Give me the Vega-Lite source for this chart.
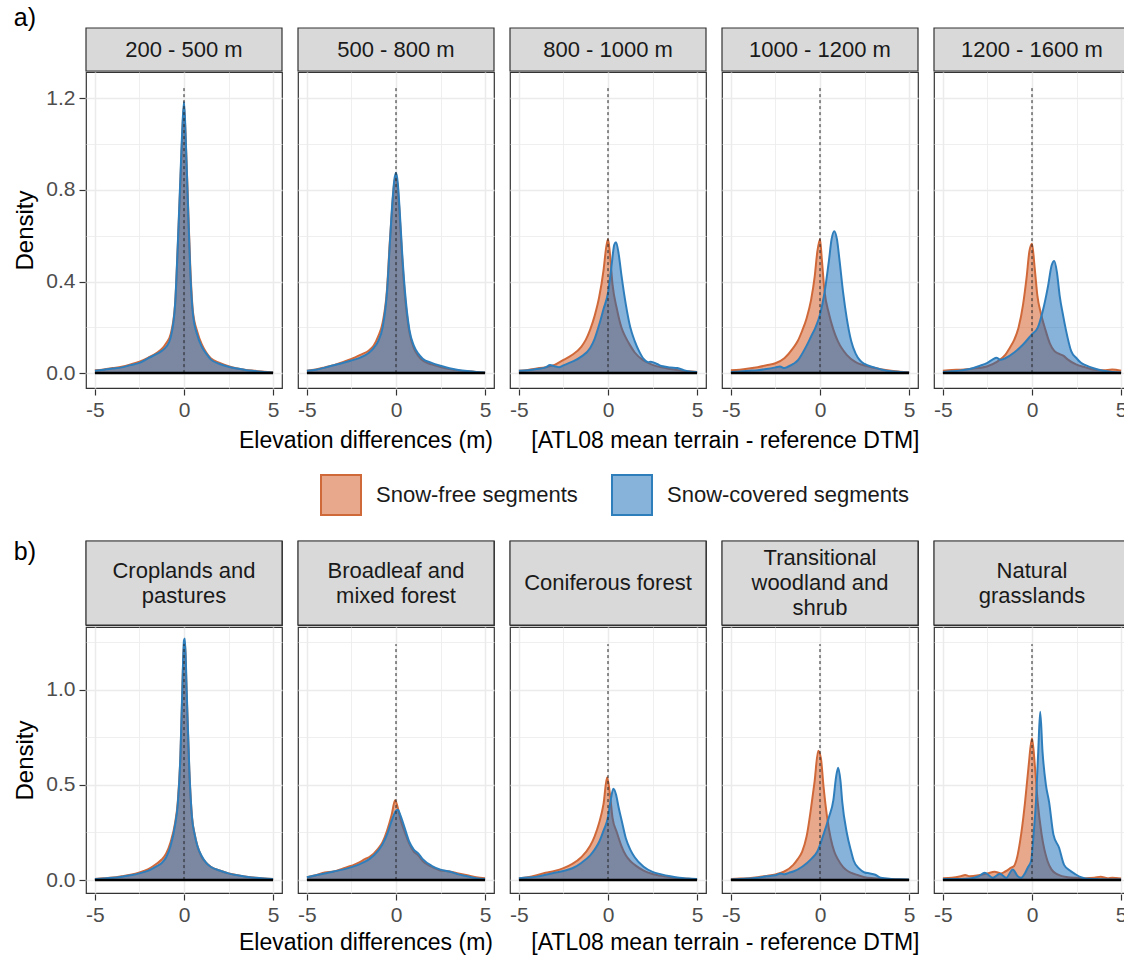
{
  "$schema": "https://vega.github.io/schema/vega-lite/v6.json",
  "background": "white",
  "padding": {"left": 13, "top": 6, "right": 0, "bottom": 0},
  "config": {
    "font": "Liberation Sans",
    "view": {"stroke": "#333333", "strokeWidth": 1.2},
    "axis": {"domain": false, "tickColor": "#333333", "tickSize": 6, "tickWidth": 1.2, "labelColor": "#4D4D4D", "labelFontSize": 21, "labelPadding": 4, "titleColor": "#000000", "titleFontSize": 24, "titleFontWeight": "normal", "titlePadding": 8},
    "title": {"fontSize": 25, "fontWeight": "normal", "color": "#000000", "anchor": "start", "frame": "bounds", "offset": -4}
  },
  "datasets": {
    "stripA": [
      {"p": "e1", "label": "200 - 500 m"},
      {"p": "e2", "label": "500 - 800 m"},
      {"p": "e3", "label": "800 - 1000 m"},
      {"p": "e4", "label": "1000 - 1200 m"},
      {"p": "e5", "label": "1200 - 1600 m"}
    ],
    "stripB": [
      {"p": "c1", "label": "Croplands and\npastures"},
      {"p": "c2", "label": "Broadleaf and\nmixed forest"},
      {"p": "c3", "label": "Coniferous forest"},
      {"p": "c4", "label": "Transitional\nwoodland and\nshrub"},
      {"p": "c5", "label": "Natural\ngrasslands"}
    ],
    "densA": [
      {"p":"e1","s":"v","x":0,"y":0},{"p":"e1","s":"v","x":0,"y":1.25},{"p":"e1","s":"b","x":-5,"y":0},{"p":"e1","s":"b","x":5,"y":0},
      {"p":"e2","s":"v","x":0,"y":0},{"p":"e2","s":"v","x":0,"y":1.25},{"p":"e2","s":"b","x":-5,"y":0},{"p":"e2","s":"b","x":5,"y":0},
      {"p":"e3","s":"v","x":0,"y":0},{"p":"e3","s":"v","x":0,"y":1.25},{"p":"e3","s":"b","x":-5,"y":0},{"p":"e3","s":"b","x":5,"y":0},
      {"p":"e4","s":"v","x":0,"y":0},{"p":"e4","s":"v","x":0,"y":1.25},{"p":"e4","s":"b","x":-5,"y":0},{"p":"e4","s":"b","x":5,"y":0},
      {"p":"e5","s":"v","x":0,"y":0},{"p":"e5","s":"v","x":0,"y":1.25},{"p":"e5","s":"b","x":-5,"y":0},{"p":"e5","s":"b","x":5,"y":0},
      {"p":"e1","s":"f","x":-5,"y":0.012},{"p":"e1","s":"f","x":-4.5,"y":0.016},{"p":"e1","s":"f","x":-4,"y":0.022},{"p":"e1","s":"f","x":-3.5,"y":0.028},{"p":"e1","s":"f","x":-3,"y":0.038},{"p":"e1","s":"f","x":-2.5,"y":0.05},{"p":"e1","s":"f","x":-2,"y":0.068},{"p":"e1","s":"f","x":-1.5,"y":0.09},{"p":"e1","s":"f","x":-1.25,"y":0.105},{"p":"e1","s":"f","x":-1,"y":0.13},{"p":"e1","s":"f","x":-0.75,"y":0.17},{"p":"e1","s":"f","x":-0.5,"y":0.3},{"p":"e1","s":"f","x":-0.35,"y":0.55},{"p":"e1","s":"f","x":-0.2,"y":0.84},{"p":"e1","s":"f","x":-0.1,"y":1.04},{"p":"e1","s":"f","x":0,"y":1.17},{"p":"e1","s":"f","x":0.1,"y":1.01},{"p":"e1","s":"f","x":0.2,"y":0.8},{"p":"e1","s":"f","x":0.35,"y":0.47},{"p":"e1","s":"f","x":0.5,"y":0.27},{"p":"e1","s":"f","x":0.75,"y":0.18},{"p":"e1","s":"f","x":1,"y":0.125},{"p":"e1","s":"f","x":1.25,"y":0.09},{"p":"e1","s":"f","x":1.5,"y":0.065},{"p":"e1","s":"f","x":2,"y":0.045},{"p":"e1","s":"f","x":2.5,"y":0.03},{"p":"e1","s":"f","x":3,"y":0.02},{"p":"e1","s":"f","x":3.5,"y":0.014},{"p":"e1","s":"f","x":4,"y":0.01},{"p":"e1","s":"f","x":4.5,"y":0.006},{"p":"e1","s":"f","x":5,"y":0.004},
      {"p":"e1","s":"c","x":-5,"y":0.01},{"p":"e1","s":"c","x":-4.5,"y":0.015},{"p":"e1","s":"c","x":-4,"y":0.02},{"p":"e1","s":"c","x":-3.5,"y":0.025},{"p":"e1","s":"c","x":-3,"y":0.035},{"p":"e1","s":"c","x":-2.5,"y":0.045},{"p":"e1","s":"c","x":-2,"y":0.065},{"p":"e1","s":"c","x":-1.5,"y":0.085},{"p":"e1","s":"c","x":-1.25,"y":0.097},{"p":"e1","s":"c","x":-1,"y":0.115},{"p":"e1","s":"c","x":-0.75,"y":0.155},{"p":"e1","s":"c","x":-0.5,"y":0.3},{"p":"e1","s":"c","x":-0.35,"y":0.56},{"p":"e1","s":"c","x":-0.2,"y":0.86},{"p":"e1","s":"c","x":-0.1,"y":1.06},{"p":"e1","s":"c","x":0,"y":1.185},{"p":"e1","s":"c","x":0.1,"y":1.02},{"p":"e1","s":"c","x":0.2,"y":0.79},{"p":"e1","s":"c","x":0.35,"y":0.45},{"p":"e1","s":"c","x":0.5,"y":0.26},{"p":"e1","s":"c","x":0.75,"y":0.165},{"p":"e1","s":"c","x":1,"y":0.115},{"p":"e1","s":"c","x":1.25,"y":0.085},{"p":"e1","s":"c","x":1.5,"y":0.06},{"p":"e1","s":"c","x":2,"y":0.04},{"p":"e1","s":"c","x":2.5,"y":0.028},{"p":"e1","s":"c","x":3,"y":0.02},{"p":"e1","s":"c","x":3.5,"y":0.013},{"p":"e1","s":"c","x":4,"y":0.009},{"p":"e1","s":"c","x":4.5,"y":0.005},{"p":"e1","s":"c","x":5,"y":0.003},
      {"p":"e2","s":"f","x":-5,"y":0.01},{"p":"e2","s":"f","x":-4.5,"y":0.016},{"p":"e2","s":"f","x":-4,"y":0.025},{"p":"e2","s":"f","x":-3.5,"y":0.035},{"p":"e2","s":"f","x":-3,"y":0.048},{"p":"e2","s":"f","x":-2.5,"y":0.062},{"p":"e2","s":"f","x":-2,"y":0.08},{"p":"e2","s":"f","x":-1.5,"y":0.1},{"p":"e2","s":"f","x":-1.25,"y":0.12},{"p":"e2","s":"f","x":-1,"y":0.16},{"p":"e2","s":"f","x":-0.75,"y":0.22},{"p":"e2","s":"f","x":-0.5,"y":0.37},{"p":"e2","s":"f","x":-0.35,"y":0.57},{"p":"e2","s":"f","x":-0.2,"y":0.74},{"p":"e2","s":"f","x":-0.1,"y":0.83},{"p":"e2","s":"f","x":0,"y":0.86},{"p":"e2","s":"f","x":0.1,"y":0.81},{"p":"e2","s":"f","x":0.2,"y":0.7},{"p":"e2","s":"f","x":0.35,"y":0.5},{"p":"e2","s":"f","x":0.5,"y":0.34},{"p":"e2","s":"f","x":0.75,"y":0.18},{"p":"e2","s":"f","x":1,"y":0.11},{"p":"e2","s":"f","x":1.25,"y":0.075},{"p":"e2","s":"f","x":1.5,"y":0.055},{"p":"e2","s":"f","x":2,"y":0.038},{"p":"e2","s":"f","x":2.5,"y":0.027},{"p":"e2","s":"f","x":3,"y":0.018},{"p":"e2","s":"f","x":3.5,"y":0.012},{"p":"e2","s":"f","x":4,"y":0.008},{"p":"e2","s":"f","x":4.5,"y":0.005},{"p":"e2","s":"f","x":5,"y":0.003},
      {"p":"e2","s":"c","x":-5,"y":0.01},{"p":"e2","s":"c","x":-4.5,"y":0.015},{"p":"e2","s":"c","x":-4,"y":0.024},{"p":"e2","s":"c","x":-3.5,"y":0.034},{"p":"e2","s":"c","x":-3,"y":0.044},{"p":"e2","s":"c","x":-2.5,"y":0.055},{"p":"e2","s":"c","x":-2,"y":0.068},{"p":"e2","s":"c","x":-1.5,"y":0.09},{"p":"e2","s":"c","x":-1.25,"y":0.11},{"p":"e2","s":"c","x":-1,"y":0.14},{"p":"e2","s":"c","x":-0.75,"y":0.2},{"p":"e2","s":"c","x":-0.5,"y":0.36},{"p":"e2","s":"c","x":-0.35,"y":0.56},{"p":"e2","s":"c","x":-0.2,"y":0.75},{"p":"e2","s":"c","x":-0.1,"y":0.84},{"p":"e2","s":"c","x":0,"y":0.875},{"p":"e2","s":"c","x":0.1,"y":0.83},{"p":"e2","s":"c","x":0.2,"y":0.72},{"p":"e2","s":"c","x":0.35,"y":0.52},{"p":"e2","s":"c","x":0.5,"y":0.36},{"p":"e2","s":"c","x":0.75,"y":0.19},{"p":"e2","s":"c","x":1,"y":0.12},{"p":"e2","s":"c","x":1.25,"y":0.085},{"p":"e2","s":"c","x":1.5,"y":0.063},{"p":"e2","s":"c","x":2,"y":0.045},{"p":"e2","s":"c","x":2.5,"y":0.032},{"p":"e2","s":"c","x":3,"y":0.021},{"p":"e2","s":"c","x":3.5,"y":0.014},{"p":"e2","s":"c","x":4,"y":0.009},{"p":"e2","s":"c","x":4.5,"y":0.005},{"p":"e2","s":"c","x":5,"y":0.003},
      {"p":"e3","s":"f","x":-5,"y":0.01},{"p":"e3","s":"f","x":-4.5,"y":0.014},{"p":"e3","s":"f","x":-4,"y":0.02},{"p":"e3","s":"f","x":-3.5,"y":0.026},{"p":"e3","s":"f","x":-3,"y":0.036},{"p":"e3","s":"f","x":-2.5,"y":0.058},{"p":"e3","s":"f","x":-2,"y":0.08},{"p":"e3","s":"f","x":-1.5,"y":0.115},{"p":"e3","s":"f","x":-1.25,"y":0.145},{"p":"e3","s":"f","x":-1,"y":0.19},{"p":"e3","s":"f","x":-0.75,"y":0.25},{"p":"e3","s":"f","x":-0.5,"y":0.33},{"p":"e3","s":"f","x":-0.25,"y":0.45},{"p":"e3","s":"f","x":-0.1,"y":0.55},{"p":"e3","s":"f","x":0,"y":0.585},{"p":"e3","s":"f","x":0.1,"y":0.53},{"p":"e3","s":"f","x":0.25,"y":0.39},{"p":"e3","s":"f","x":0.5,"y":0.28},{"p":"e3","s":"f","x":0.75,"y":0.2},{"p":"e3","s":"f","x":1,"y":0.155},{"p":"e3","s":"f","x":1.25,"y":0.12},{"p":"e3","s":"f","x":1.5,"y":0.09},{"p":"e3","s":"f","x":2,"y":0.055},{"p":"e3","s":"f","x":2.5,"y":0.036},{"p":"e3","s":"f","x":3,"y":0.025},{"p":"e3","s":"f","x":3.5,"y":0.018},{"p":"e3","s":"f","x":4,"y":0.012},{"p":"e3","s":"f","x":4.5,"y":0.008},{"p":"e3","s":"f","x":5,"y":0.005},
      {"p":"e3","s":"c","x":-5,"y":0.01},{"p":"e3","s":"c","x":-4.5,"y":0.013},{"p":"e3","s":"c","x":-4,"y":0.018},{"p":"e3","s":"c","x":-3.5,"y":0.025},{"p":"e3","s":"c","x":-3.25,"y":0.035},{"p":"e3","s":"c","x":-3,"y":0.03},{"p":"e3","s":"c","x":-2.75,"y":0.026},{"p":"e3","s":"c","x":-2.5,"y":0.034},{"p":"e3","s":"c","x":-2,"y":0.05},{"p":"e3","s":"c","x":-1.5,"y":0.072},{"p":"e3","s":"c","x":-1,"y":0.11},{"p":"e3","s":"c","x":-0.75,"y":0.15},{"p":"e3","s":"c","x":-0.5,"y":0.21},{"p":"e3","s":"c","x":-0.25,"y":0.28},{"p":"e3","s":"c","x":0,"y":0.35},{"p":"e3","s":"c","x":0.2,"y":0.47},{"p":"e3","s":"c","x":0.35,"y":0.56},{"p":"e3","s":"c","x":0.45,"y":0.572},{"p":"e3","s":"c","x":0.6,"y":0.52},{"p":"e3","s":"c","x":0.75,"y":0.43},{"p":"e3","s":"c","x":1,"y":0.3},{"p":"e3","s":"c","x":1.25,"y":0.2},{"p":"e3","s":"c","x":1.5,"y":0.14},{"p":"e3","s":"c","x":1.75,"y":0.095},{"p":"e3","s":"c","x":2,"y":0.062},{"p":"e3","s":"c","x":2.25,"y":0.048},{"p":"e3","s":"c","x":2.4,"y":0.05},{"p":"e3","s":"c","x":2.75,"y":0.04},{"p":"e3","s":"c","x":3,"y":0.031},{"p":"e3","s":"c","x":3.5,"y":0.025},{"p":"e3","s":"c","x":3.9,"y":0.022},{"p":"e3","s":"c","x":4.25,"y":0.013},{"p":"e3","s":"c","x":4.5,"y":0.008},{"p":"e3","s":"c","x":5,"y":0.005},
      {"p":"e4","s":"f","x":-5,"y":0.012},{"p":"e4","s":"f","x":-4.5,"y":0.015},{"p":"e4","s":"f","x":-4,"y":0.02},{"p":"e4","s":"f","x":-3.5,"y":0.026},{"p":"e4","s":"f","x":-3,"y":0.034},{"p":"e4","s":"f","x":-2.5,"y":0.043},{"p":"e4","s":"f","x":-2,"y":0.065},{"p":"e4","s":"f","x":-1.5,"y":0.11},{"p":"e4","s":"f","x":-1.25,"y":0.14},{"p":"e4","s":"f","x":-1,"y":0.185},{"p":"e4","s":"f","x":-0.75,"y":0.24},{"p":"e4","s":"f","x":-0.5,"y":0.32},{"p":"e4","s":"f","x":-0.3,"y":0.42},{"p":"e4","s":"f","x":-0.15,"y":0.53},{"p":"e4","s":"f","x":0,"y":0.585},{"p":"e4","s":"f","x":0.1,"y":0.5},{"p":"e4","s":"f","x":0.25,"y":0.36},{"p":"e4","s":"f","x":0.5,"y":0.26},{"p":"e4","s":"f","x":0.75,"y":0.19},{"p":"e4","s":"f","x":1,"y":0.14},{"p":"e4","s":"f","x":1.25,"y":0.105},{"p":"e4","s":"f","x":1.5,"y":0.08},{"p":"e4","s":"f","x":2,"y":0.048},{"p":"e4","s":"f","x":2.5,"y":0.033},{"p":"e4","s":"f","x":3,"y":0.023},{"p":"e4","s":"f","x":3.5,"y":0.016},{"p":"e4","s":"f","x":4,"y":0.01},{"p":"e4","s":"f","x":4.5,"y":0.006},{"p":"e4","s":"f","x":5,"y":0.004},
      {"p":"e4","s":"c","x":-5,"y":0.005},{"p":"e4","s":"c","x":-4.5,"y":0.007},{"p":"e4","s":"c","x":-4,"y":0.01},{"p":"e4","s":"c","x":-3.5,"y":0.013},{"p":"e4","s":"c","x":-3,"y":0.018},{"p":"e4","s":"c","x":-2.5,"y":0.025},{"p":"e4","s":"c","x":-2.25,"y":0.029},{"p":"e4","s":"c","x":-2,"y":0.022},{"p":"e4","s":"c","x":-1.75,"y":0.03},{"p":"e4","s":"c","x":-1.5,"y":0.04},{"p":"e4","s":"c","x":-1.25,"y":0.055},{"p":"e4","s":"c","x":-1,"y":0.085},{"p":"e4","s":"c","x":-0.75,"y":0.12},{"p":"e4","s":"c","x":-0.5,"y":0.16},{"p":"e4","s":"c","x":-0.25,"y":0.2},{"p":"e4","s":"c","x":0,"y":0.256},{"p":"e4","s":"c","x":0.25,"y":0.35},{"p":"e4","s":"c","x":0.5,"y":0.49},{"p":"e4","s":"c","x":0.65,"y":0.585},{"p":"e4","s":"c","x":0.8,"y":0.62},{"p":"e4","s":"c","x":0.95,"y":0.585},{"p":"e4","s":"c","x":1.1,"y":0.49},{"p":"e4","s":"c","x":1.3,"y":0.35},{"p":"e4","s":"c","x":1.5,"y":0.24},{"p":"e4","s":"c","x":1.75,"y":0.14},{"p":"e4","s":"c","x":2,"y":0.085},{"p":"e4","s":"c","x":2.25,"y":0.055},{"p":"e4","s":"c","x":2.5,"y":0.04},{"p":"e4","s":"c","x":3,"y":0.026},{"p":"e4","s":"c","x":3.5,"y":0.015},{"p":"e4","s":"c","x":4,"y":0.008},{"p":"e4","s":"c","x":4.5,"y":0.005},{"p":"e4","s":"c","x":5,"y":0.003},
      {"p":"e5","s":"f","x":-5,"y":0.01},{"p":"e5","s":"f","x":-4.5,"y":0.014},{"p":"e5","s":"f","x":-4,"y":0.015},{"p":"e5","s":"f","x":-3.5,"y":0.018},{"p":"e5","s":"f","x":-3,"y":0.022},{"p":"e5","s":"f","x":-2.5,"y":0.03},{"p":"e5","s":"f","x":-2,"y":0.048},{"p":"e5","s":"f","x":-1.5,"y":0.08},{"p":"e5","s":"f","x":-1.25,"y":0.11},{"p":"e5","s":"f","x":-1,"y":0.145},{"p":"e5","s":"f","x":-0.75,"y":0.2},{"p":"e5","s":"f","x":-0.5,"y":0.3},{"p":"e5","s":"f","x":-0.3,"y":0.42},{"p":"e5","s":"f","x":-0.15,"y":0.53},{"p":"e5","s":"f","x":0,"y":0.565},{"p":"e5","s":"f","x":0.15,"y":0.46},{"p":"e5","s":"f","x":0.3,"y":0.34},{"p":"e5","s":"f","x":0.5,"y":0.26},{"p":"e5","s":"f","x":0.75,"y":0.19},{"p":"e5","s":"f","x":1,"y":0.13},{"p":"e5","s":"f","x":1.25,"y":0.097},{"p":"e5","s":"f","x":1.5,"y":0.085},{"p":"e5","s":"f","x":1.8,"y":0.074},{"p":"e5","s":"f","x":2,"y":0.06},{"p":"e5","s":"f","x":2.5,"y":0.037},{"p":"e5","s":"f","x":3,"y":0.025},{"p":"e5","s":"f","x":3.5,"y":0.015},{"p":"e5","s":"f","x":4,"y":0.012},{"p":"e5","s":"f","x":4.5,"y":0.016},{"p":"e5","s":"f","x":5,"y":0.01},
      {"p":"e5","s":"c","x":-5,"y":0.005},{"p":"e5","s":"c","x":-4.5,"y":0.008},{"p":"e5","s":"c","x":-4,"y":0.012},{"p":"e5","s":"c","x":-3.5,"y":0.018},{"p":"e5","s":"c","x":-3,"y":0.03},{"p":"e5","s":"c","x":-2.5,"y":0.045},{"p":"e5","s":"c","x":-2.2,"y":0.06},{"p":"e5","s":"c","x":-2,"y":0.067},{"p":"e5","s":"c","x":-1.75,"y":0.058},{"p":"e5","s":"c","x":-1.5,"y":0.065},{"p":"e5","s":"c","x":-1,"y":0.09},{"p":"e5","s":"c","x":-0.5,"y":0.125},{"p":"e5","s":"c","x":0,"y":0.17},{"p":"e5","s":"c","x":0.33,"y":0.2},{"p":"e5","s":"c","x":0.6,"y":0.27},{"p":"e5","s":"c","x":0.9,"y":0.38},{"p":"e5","s":"c","x":1.1,"y":0.47},{"p":"e5","s":"c","x":1.25,"y":0.49},{"p":"e5","s":"c","x":1.4,"y":0.44},{"p":"e5","s":"c","x":1.55,"y":0.34},{"p":"e5","s":"c","x":1.75,"y":0.25},{"p":"e5","s":"c","x":1.9,"y":0.19},{"p":"e5","s":"c","x":2.2,"y":0.096},{"p":"e5","s":"c","x":2.5,"y":0.065},{"p":"e5","s":"c","x":2.75,"y":0.045},{"p":"e5","s":"c","x":3,"y":0.035},{"p":"e5","s":"c","x":3.5,"y":0.02},{"p":"e5","s":"c","x":4,"y":0.01},{"p":"e5","s":"c","x":4.5,"y":0.005},{"p":"e5","s":"c","x":5,"y":0.003}
    ],
    "densB": [
      {"p":"c1","s":"v","x":0,"y":0},{"p":"c1","s":"v","x":0,"y":1.24},{"p":"c1","s":"b","x":-5,"y":0},{"p":"c1","s":"b","x":5,"y":0},
      {"p":"c2","s":"v","x":0,"y":0},{"p":"c2","s":"v","x":0,"y":1.24},{"p":"c2","s":"b","x":-5,"y":0},{"p":"c2","s":"b","x":5,"y":0},
      {"p":"c3","s":"v","x":0,"y":0},{"p":"c3","s":"v","x":0,"y":1.24},{"p":"c3","s":"b","x":-5,"y":0},{"p":"c3","s":"b","x":5,"y":0},
      {"p":"c4","s":"v","x":0,"y":0},{"p":"c4","s":"v","x":0,"y":1.24},{"p":"c4","s":"b","x":-5,"y":0},{"p":"c4","s":"b","x":5,"y":0},
      {"p":"c5","s":"v","x":0,"y":0},{"p":"c5","s":"v","x":0,"y":1.24},{"p":"c5","s":"b","x":-5,"y":0},{"p":"c5","s":"b","x":5,"y":0},
      {"p":"c1","s":"f","x":-5,"y":0.006},{"p":"c1","s":"f","x":-4.5,"y":0.009},{"p":"c1","s":"f","x":-4,"y":0.013},{"p":"c1","s":"f","x":-3.5,"y":0.02},{"p":"c1","s":"f","x":-3,"y":0.028},{"p":"c1","s":"f","x":-2.5,"y":0.04},{"p":"c1","s":"f","x":-2,"y":0.058},{"p":"c1","s":"f","x":-1.5,"y":0.088},{"p":"c1","s":"f","x":-1.25,"y":0.108},{"p":"c1","s":"f","x":-1,"y":0.14},{"p":"c1","s":"f","x":-0.75,"y":0.2},{"p":"c1","s":"f","x":-0.5,"y":0.3},{"p":"c1","s":"f","x":-0.35,"y":0.41},{"p":"c1","s":"f","x":-0.2,"y":0.65},{"p":"c1","s":"f","x":-0.1,"y":0.97},{"p":"c1","s":"f","x":0,"y":1.25},{"p":"c1","s":"f","x":0.05,"y":1.24},{"p":"c1","s":"f","x":0.15,"y":0.98},{"p":"c1","s":"f","x":0.3,"y":0.57},{"p":"c1","s":"f","x":0.45,"y":0.33},{"p":"c1","s":"f","x":0.6,"y":0.24},{"p":"c1","s":"f","x":0.75,"y":0.18},{"p":"c1","s":"f","x":1,"y":0.12},{"p":"c1","s":"f","x":1.25,"y":0.09},{"p":"c1","s":"f","x":1.5,"y":0.07},{"p":"c1","s":"f","x":2,"y":0.05},{"p":"c1","s":"f","x":2.5,"y":0.035},{"p":"c1","s":"f","x":3,"y":0.026},{"p":"c1","s":"f","x":3.5,"y":0.018},{"p":"c1","s":"f","x":4,"y":0.012},{"p":"c1","s":"f","x":4.5,"y":0.008},{"p":"c1","s":"f","x":5,"y":0.005},
      {"p":"c1","s":"c","x":-5,"y":0.005},{"p":"c1","s":"c","x":-4.5,"y":0.008},{"p":"c1","s":"c","x":-4,"y":0.012},{"p":"c1","s":"c","x":-3.5,"y":0.018},{"p":"c1","s":"c","x":-3,"y":0.025},{"p":"c1","s":"c","x":-2.5,"y":0.035},{"p":"c1","s":"c","x":-2,"y":0.05},{"p":"c1","s":"c","x":-1.5,"y":0.075},{"p":"c1","s":"c","x":-1.25,"y":0.09},{"p":"c1","s":"c","x":-1,"y":0.12},{"p":"c1","s":"c","x":-0.75,"y":0.18},{"p":"c1","s":"c","x":-0.5,"y":0.29},{"p":"c1","s":"c","x":-0.35,"y":0.4},{"p":"c1","s":"c","x":-0.2,"y":0.66},{"p":"c1","s":"c","x":-0.1,"y":0.99},{"p":"c1","s":"c","x":0,"y":1.26},{"p":"c1","s":"c","x":0.05,"y":1.27},{"p":"c1","s":"c","x":0.15,"y":1.0},{"p":"c1","s":"c","x":0.3,"y":0.58},{"p":"c1","s":"c","x":0.45,"y":0.33},{"p":"c1","s":"c","x":0.6,"y":0.24},{"p":"c1","s":"c","x":0.75,"y":0.18},{"p":"c1","s":"c","x":1,"y":0.125},{"p":"c1","s":"c","x":1.25,"y":0.09},{"p":"c1","s":"c","x":1.5,"y":0.07},{"p":"c1","s":"c","x":2,"y":0.05},{"p":"c1","s":"c","x":2.5,"y":0.035},{"p":"c1","s":"c","x":3,"y":0.025},{"p":"c1","s":"c","x":3.5,"y":0.018},{"p":"c1","s":"c","x":4,"y":0.012},{"p":"c1","s":"c","x":4.5,"y":0.008},{"p":"c1","s":"c","x":5,"y":0.005},
      {"p":"c2","s":"f","x":-5,"y":0.015},{"p":"c2","s":"f","x":-4.5,"y":0.025},{"p":"c2","s":"f","x":-4,"y":0.04},{"p":"c2","s":"f","x":-3.5,"y":0.045},{"p":"c2","s":"f","x":-3,"y":0.06},{"p":"c2","s":"f","x":-2.5,"y":0.075},{"p":"c2","s":"f","x":-2,"y":0.095},{"p":"c2","s":"f","x":-1.75,"y":0.11},{"p":"c2","s":"f","x":-1.5,"y":0.12},{"p":"c2","s":"f","x":-1,"y":0.165},{"p":"c2","s":"f","x":-0.75,"y":0.2},{"p":"c2","s":"f","x":-0.5,"y":0.26},{"p":"c2","s":"f","x":-0.25,"y":0.34},{"p":"c2","s":"f","x":-0.05,"y":0.42},{"p":"c2","s":"f","x":0.1,"y":0.38},{"p":"c2","s":"f","x":0.25,"y":0.32},{"p":"c2","s":"f","x":0.5,"y":0.25},{"p":"c2","s":"f","x":0.75,"y":0.19},{"p":"c2","s":"f","x":1,"y":0.15},{"p":"c2","s":"f","x":1.25,"y":0.13},{"p":"c2","s":"f","x":1.5,"y":0.1},{"p":"c2","s":"f","x":2,"y":0.07},{"p":"c2","s":"f","x":2.5,"y":0.05},{"p":"c2","s":"f","x":3,"y":0.045},{"p":"c2","s":"f","x":3.5,"y":0.035},{"p":"c2","s":"f","x":4,"y":0.025},{"p":"c2","s":"f","x":4.5,"y":0.015},{"p":"c2","s":"f","x":5,"y":0.01},
      {"p":"c2","s":"c","x":-5,"y":0.015},{"p":"c2","s":"c","x":-4.5,"y":0.025},{"p":"c2","s":"c","x":-4,"y":0.035},{"p":"c2","s":"c","x":-3.5,"y":0.045},{"p":"c2","s":"c","x":-3,"y":0.055},{"p":"c2","s":"c","x":-2.5,"y":0.068},{"p":"c2","s":"c","x":-2,"y":0.085},{"p":"c2","s":"c","x":-1.5,"y":0.11},{"p":"c2","s":"c","x":-1,"y":0.155},{"p":"c2","s":"c","x":-0.75,"y":0.19},{"p":"c2","s":"c","x":-0.5,"y":0.24},{"p":"c2","s":"c","x":-0.25,"y":0.31},{"p":"c2","s":"c","x":0,"y":0.365},{"p":"c2","s":"c","x":0.1,"y":0.37},{"p":"c2","s":"c","x":0.25,"y":0.34},{"p":"c2","s":"c","x":0.5,"y":0.27},{"p":"c2","s":"c","x":0.75,"y":0.2},{"p":"c2","s":"c","x":1,"y":0.16},{"p":"c2","s":"c","x":1.25,"y":0.14},{"p":"c2","s":"c","x":1.5,"y":0.11},{"p":"c2","s":"c","x":2,"y":0.075},{"p":"c2","s":"c","x":2.5,"y":0.055},{"p":"c2","s":"c","x":3,"y":0.045},{"p":"c2","s":"c","x":3.5,"y":0.03},{"p":"c2","s":"c","x":4,"y":0.02},{"p":"c2","s":"c","x":4.5,"y":0.01},{"p":"c2","s":"c","x":5,"y":0.005},
      {"p":"c3","s":"f","x":-5,"y":0.01},{"p":"c3","s":"f","x":-4.5,"y":0.015},{"p":"c3","s":"f","x":-4,"y":0.025},{"p":"c3","s":"f","x":-3.5,"y":0.038},{"p":"c3","s":"f","x":-3,"y":0.048},{"p":"c3","s":"f","x":-2.5,"y":0.063},{"p":"c3","s":"f","x":-2,"y":0.085},{"p":"c3","s":"f","x":-1.5,"y":0.12},{"p":"c3","s":"f","x":-1,"y":0.18},{"p":"c3","s":"f","x":-0.75,"y":0.23},{"p":"c3","s":"f","x":-0.5,"y":0.3},{"p":"c3","s":"f","x":-0.25,"y":0.4},{"p":"c3","s":"f","x":-0.05,"y":0.54},{"p":"c3","s":"f","x":0.1,"y":0.46},{"p":"c3","s":"f","x":0.25,"y":0.33},{"p":"c3","s":"f","x":0.5,"y":0.25},{"p":"c3","s":"f","x":0.75,"y":0.18},{"p":"c3","s":"f","x":1,"y":0.13},{"p":"c3","s":"f","x":1.25,"y":0.1},{"p":"c3","s":"f","x":1.5,"y":0.08},{"p":"c3","s":"f","x":2,"y":0.05},{"p":"c3","s":"f","x":2.5,"y":0.032},{"p":"c3","s":"f","x":3,"y":0.022},{"p":"c3","s":"f","x":3.5,"y":0.015},{"p":"c3","s":"f","x":4,"y":0.01},{"p":"c3","s":"f","x":4.5,"y":0.007},{"p":"c3","s":"f","x":5,"y":0.005},
      {"p":"c3","s":"c","x":-5,"y":0.01},{"p":"c3","s":"c","x":-4.5,"y":0.013},{"p":"c3","s":"c","x":-4,"y":0.018},{"p":"c3","s":"c","x":-3.5,"y":0.028},{"p":"c3","s":"c","x":-3,"y":0.038},{"p":"c3","s":"c","x":-2.5,"y":0.048},{"p":"c3","s":"c","x":-2,"y":0.062},{"p":"c3","s":"c","x":-1.5,"y":0.09},{"p":"c3","s":"c","x":-1,"y":0.13},{"p":"c3","s":"c","x":-0.75,"y":0.16},{"p":"c3","s":"c","x":-0.5,"y":0.2},{"p":"c3","s":"c","x":-0.25,"y":0.26},{"p":"c3","s":"c","x":0,"y":0.33},{"p":"c3","s":"c","x":0.15,"y":0.42},{"p":"c3","s":"c","x":0.3,"y":0.48},{"p":"c3","s":"c","x":0.45,"y":0.45},{"p":"c3","s":"c","x":0.6,"y":0.38},{"p":"c3","s":"c","x":0.75,"y":0.32},{"p":"c3","s":"c","x":1,"y":0.22},{"p":"c3","s":"c","x":1.25,"y":0.16},{"p":"c3","s":"c","x":1.5,"y":0.12},{"p":"c3","s":"c","x":2,"y":0.07},{"p":"c3","s":"c","x":2.5,"y":0.043},{"p":"c3","s":"c","x":3,"y":0.03},{"p":"c3","s":"c","x":3.5,"y":0.02},{"p":"c3","s":"c","x":4,"y":0.012},{"p":"c3","s":"c","x":4.5,"y":0.008},{"p":"c3","s":"c","x":5,"y":0.005},
      {"p":"c4","s":"f","x":-5,"y":0.005},{"p":"c4","s":"f","x":-4.5,"y":0.008},{"p":"c4","s":"f","x":-4,"y":0.01},{"p":"c4","s":"f","x":-3.5,"y":0.015},{"p":"c4","s":"f","x":-3,"y":0.022},{"p":"c4","s":"f","x":-2.5,"y":0.03},{"p":"c4","s":"f","x":-2,"y":0.045},{"p":"c4","s":"f","x":-1.5,"y":0.08},{"p":"c4","s":"f","x":-1.25,"y":0.11},{"p":"c4","s":"f","x":-1,"y":0.15},{"p":"c4","s":"f","x":-0.75,"y":0.23},{"p":"c4","s":"f","x":-0.5,"y":0.38},{"p":"c4","s":"f","x":-0.3,"y":0.52},{"p":"c4","s":"f","x":-0.1,"y":0.68},{"p":"c4","s":"f","x":0.05,"y":0.64},{"p":"c4","s":"f","x":0.2,"y":0.49},{"p":"c4","s":"f","x":0.4,"y":0.33},{"p":"c4","s":"f","x":0.6,"y":0.22},{"p":"c4","s":"f","x":0.8,"y":0.15},{"p":"c4","s":"f","x":1,"y":0.11},{"p":"c4","s":"f","x":1.3,"y":0.068},{"p":"c4","s":"f","x":1.6,"y":0.045},{"p":"c4","s":"f","x":2,"y":0.03},{"p":"c4","s":"f","x":2.5,"y":0.015},{"p":"c4","s":"f","x":3,"y":0.01},{"p":"c4","s":"f","x":3.5,"y":0.007},{"p":"c4","s":"f","x":4,"y":0.005},{"p":"c4","s":"f","x":4.5,"y":0.003},{"p":"c4","s":"f","x":5,"y":0.002},
      {"p":"c4","s":"c","x":-5,"y":0.003},{"p":"c4","s":"c","x":-4.5,"y":0.005},{"p":"c4","s":"c","x":-4,"y":0.008},{"p":"c4","s":"c","x":-3.5,"y":0.012},{"p":"c4","s":"c","x":-3,"y":0.02},{"p":"c4","s":"c","x":-2.5,"y":0.025},{"p":"c4","s":"c","x":-2.2,"y":0.035},{"p":"c4","s":"c","x":-2,"y":0.03},{"p":"c4","s":"c","x":-1.75,"y":0.038},{"p":"c4","s":"c","x":-1.5,"y":0.045},{"p":"c4","s":"c","x":-1,"y":0.07},{"p":"c4","s":"c","x":-0.5,"y":0.11},{"p":"c4","s":"c","x":-0.15,"y":0.15},{"p":"c4","s":"c","x":0.2,"y":0.24},{"p":"c4","s":"c","x":0.5,"y":0.33},{"p":"c4","s":"c","x":0.75,"y":0.42},{"p":"c4","s":"c","x":0.9,"y":0.54},{"p":"c4","s":"c","x":1.02,"y":0.59},{"p":"c4","s":"c","x":1.15,"y":0.52},{"p":"c4","s":"c","x":1.25,"y":0.41},{"p":"c4","s":"c","x":1.5,"y":0.25},{"p":"c4","s":"c","x":1.75,"y":0.15},{"p":"c4","s":"c","x":1.9,"y":0.1},{"p":"c4","s":"c","x":2.2,"y":0.06},{"p":"c4","s":"c","x":2.5,"y":0.04},{"p":"c4","s":"c","x":2.8,"y":0.035},{"p":"c4","s":"c","x":3.1,"y":0.028},{"p":"c4","s":"c","x":3.4,"y":0.012},{"p":"c4","s":"c","x":4,"y":0.006},{"p":"c4","s":"c","x":4.5,"y":0.004},{"p":"c4","s":"c","x":5,"y":0.003},
      {"p":"c5","s":"f","x":-5,"y":0.01},{"p":"c5","s":"f","x":-4.5,"y":0.012},{"p":"c5","s":"f","x":-4,"y":0.02},{"p":"c5","s":"f","x":-3.75,"y":0.026},{"p":"c5","s":"f","x":-3.5,"y":0.02},{"p":"c5","s":"f","x":-3,"y":0.025},{"p":"c5","s":"f","x":-2.5,"y":0.035},{"p":"c5","s":"f","x":-2.1,"y":0.044},{"p":"c5","s":"f","x":-1.75,"y":0.035},{"p":"c5","s":"f","x":-1.5,"y":0.045},{"p":"c5","s":"f","x":-1.17,"y":0.065},{"p":"c5","s":"f","x":-1,"y":0.075},{"p":"c5","s":"f","x":-0.89,"y":0.1},{"p":"c5","s":"f","x":-0.61,"y":0.24},{"p":"c5","s":"f","x":-0.39,"y":0.41},{"p":"c5","s":"f","x":-0.2,"y":0.59},{"p":"c5","s":"f","x":0,"y":0.745},{"p":"c5","s":"f","x":0.17,"y":0.59},{"p":"c5","s":"f","x":0.32,"y":0.41},{"p":"c5","s":"f","x":0.54,"y":0.24},{"p":"c5","s":"f","x":0.87,"y":0.1},{"p":"c5","s":"f","x":1.1,"y":0.055},{"p":"c5","s":"f","x":1.43,"y":0.03},{"p":"c5","s":"f","x":2,"y":0.015},{"p":"c5","s":"f","x":2.5,"y":0.012},{"p":"c5","s":"f","x":3,"y":0.01},{"p":"c5","s":"f","x":3.5,"y":0.012},{"p":"c5","s":"f","x":3.85,"y":0.017},{"p":"c5","s":"f","x":4.25,"y":0.01},{"p":"c5","s":"f","x":4.5,"y":0.012},{"p":"c5","s":"f","x":5,"y":0.008},
      {"p":"c5","s":"c","x":-5,"y":0.005},{"p":"c5","s":"c","x":-4.5,"y":0.006},{"p":"c5","s":"c","x":-4,"y":0.006},{"p":"c5","s":"c","x":-3.5,"y":0.008},{"p":"c5","s":"c","x":-3,"y":0.02},{"p":"c5","s":"c","x":-2.65,"y":0.038},{"p":"c5","s":"c","x":-2.2,"y":0.012},{"p":"c5","s":"c","x":-1.8,"y":0.033},{"p":"c5","s":"c","x":-1.45,"y":0.012},{"p":"c5","s":"c","x":-1.08,"y":0.056},{"p":"c5","s":"c","x":-0.8,"y":0.02},{"p":"c5","s":"c","x":-0.61,"y":0.012},{"p":"c5","s":"c","x":-0.4,"y":0.035},{"p":"c5","s":"c","x":-0.24,"y":0.065},{"p":"c5","s":"c","x":-0.05,"y":0.1},{"p":"c5","s":"c","x":0.09,"y":0.24},{"p":"c5","s":"c","x":0.22,"y":0.41},{"p":"c5","s":"c","x":0.35,"y":0.675},{"p":"c5","s":"c","x":0.46,"y":0.885},{"p":"c5","s":"c","x":0.59,"y":0.675},{"p":"c5","s":"c","x":0.78,"y":0.5},{"p":"c5","s":"c","x":0.96,"y":0.41},{"p":"c5","s":"c","x":1.2,"y":0.24},{"p":"c5","s":"c","x":1.52,"y":0.17},{"p":"c5","s":"c","x":1.8,"y":0.08},{"p":"c5","s":"c","x":2.17,"y":0.047},{"p":"c5","s":"c","x":2.45,"y":0.03},{"p":"c5","s":"c","x":2.75,"y":0.015},{"p":"c5","s":"c","x":3,"y":0.008},{"p":"c5","s":"c","x":3.5,"y":0.005},{"p":"c5","s":"c","x":4,"y":0.004},{"p":"c5","s":"c","x":4.5,"y":0.003},{"p":"c5","s":"c","x":5,"y":0.003}
    ]
  },
  "resolve": {"scale": {"y": "independent"}, "legend": {"fill": "independent", "stroke": "independent"}},
  "spacing": 20,
  "vconcat": [
    {
      "title": {"text": "a)"},
      "spacing": -3,
      "vconcat": [
        {
          "data": {"name": "stripA"},
          "spacing": 16,
          "bounds": "flush",
          "facet": {"column": {"field": "p", "type": "nominal", "header": null}},
          "spec": {
            "width": 196,
            "height": 43,
            "layer": [
              {"mark": {"type": "rect", "fill": "#D9D9D9", "stroke": "#333333", "strokeWidth": 1.2}, "encoding": {}},
              {"mark": {"type": "text", "fontSize": 22, "color": "#1A1A1A"}, "encoding": {"text": {"field": "label", "type": "nominal"}}}
            ]
          }
        },
        {
          "data": {"name": "densA"},
          "spacing": 14,
          "facet": {"column": {"field": "p", "type": "nominal", "header": {"labels": false, "title": "Elevation differences (m)\u00a0\u00a0\u00a0\u00a0\u00a0\u00a0[ATL08 mean terrain - reference DTM]\u00a0\u00a0\u00a0\u00a0\u00a0\u00a0\u00a0\u00a0\u00a0\u200b", "titleOrient": "bottom", "titleFontSize": 23, "titleFontWeight": "normal", "titleColor": "#000000", "titlePadding": 0}}},
          "spec": {
            "width": 196,
            "height": 316,
            "encoding": {
              "x": {"field": "x", "type": "quantitative", "scale": {"domain": [-5.5, 5.5], "nice": false, "zero": false},
                "axis": {"values": [-5, -2.5, 0, 2.5, 5], "title": null,
                  "labelExpr": "indexof([-5,0,5], datum.value) >= 0 ? '' + datum.value : ''",
                  "tickOpacity": {"condition": {"test": "indexof([-5,0,5], datum.value) >= 0", "value": 1}, "value": 0},
                  "gridColor": "#EBEBEB",
                  "gridWidth": {"condition": {"test": "indexof([-5,0,5], datum.value) >= 0", "value": 1.5}, "value": 0.8}}},
              "y": {"field": "y", "type": "quantitative", "stack": null, "scale": {"domain": [-0.065, 1.315], "nice": false, "zero": false},
                "axis": {"values": [0, 0.2, 0.4, 0.6, 0.8, 1, 1.2], "title": "Density",
                  "labelExpr": "indexof([0,0.4,0.8,1.2], datum.value) >= 0 ? format(datum.value, '.1f') : ''",
                  "tickOpacity": {"condition": {"test": "indexof([0,0.4,0.8,1.2], datum.value) >= 0", "value": 1}, "value": 0},
                  "gridColor": "#EBEBEB",
                  "gridWidth": {"condition": {"test": "indexof([0,0.4,0.8,1.2], datum.value) >= 0", "value": 1.5}, "value": 0.8}}}
            },
            "layer": [
              {"transform": [{"filter": "datum.s == 'f'"}], "mark": {"type": "area", "interpolate": "monotone", "fill": "#D15119", "fillOpacity": 0.5}, "encoding": {}},
              {"transform": [{"filter": "datum.s == 'f'"}], "mark": {"type": "line", "interpolate": "monotone", "strokeWidth": 2, "stroke": "#D0693A"}, "encoding": {}},
              {"transform": [{"filter": "datum.s == 'c'"}], "mark": {"type": "area", "interpolate": "monotone", "fill": "#0F65B5", "fillOpacity": 0.5}, "encoding": {}},
              {"transform": [{"filter": "datum.s == 'c'"}], "mark": {"type": "line", "interpolate": "monotone", "strokeWidth": 2, "stroke": "#2F7EBC"}, "encoding": {}},
              {"transform": [{"filter": "datum.s == 'v'"}], "mark": {"type": "line", "strokeDash": [3, 3], "strokeWidth": 1, "color": "#222222"}, "encoding": {}},
              {"transform": [{"filter": "datum.s == 'b'"}], "mark": {"type": "line", "strokeWidth": 2.5, "color": "#000000"}, "encoding": {}},
              {"transform": [{"filter": "false"}], "mark": {"type": "square", "opacity": 1},
                "encoding": {
                  "fill": {"field": "s", "type": "nominal", "scale": {"domain": ["f", "c"], "range": ["#E8A88C", "#87B2DA"]},
                    "legend": {"title": null, "orient": "none", "legendX": 234, "legendY": 446, "direction": "horizontal", "symbolType": "square", "symbolSize": 1600, "symbolStrokeWidth": 2, "symbolOpacity": 1, "labelFontSize": 22, "labelColor": "#1A1A1A", "labelLimit": 400, "labelExpr": "datum.value == 'f' ? 'Snow-free segments' : 'Snow-covered segments'", "columnPadding": 30, "labelOffset": 14}},
                  "stroke": {"field": "s", "type": "nominal", "scale": {"domain": ["f", "c"], "range": ["#D0693A", "#2F7EBC"]},
                    "legend": {"title": null, "orient": "none", "legendX": 234, "legendY": 446, "direction": "horizontal", "symbolType": "square", "symbolSize": 1600, "symbolStrokeWidth": 2, "symbolOpacity": 1, "labelFontSize": 22, "labelColor": "#1A1A1A", "labelLimit": 400, "labelExpr": "datum.value == 'f' ? 'Snow-free segments' : 'Snow-covered segments'", "columnPadding": 30, "labelOffset": 14}}}}
            ]
          }
        }
      ]
    },
    {
      "title": {"text": "b)", "dy": 21},
      "spacing": -3,
      "vconcat": [
        {
          "data": {"name": "stripB"},
          "transform": [{"calculate": "length(split(datum.label, '\\n'))", "as": "nl"}],
          "spacing": 16,
          "bounds": "flush",
          "facet": {"column": {"field": "p", "type": "nominal", "header": null}},
          "spec": {
            "width": 196,
            "height": 84,
            "layer": [
              {"mark": {"type": "rect", "fill": "#D9D9D9", "stroke": "#333333", "strokeWidth": 1.2}, "encoding": {}},
              {"mark": {"type": "text", "fontSize": 22, "color": "#1A1A1A", "lineBreak": "\n", "lineHeight": 25},
                "encoding": {"text": {"field": "label", "type": "nominal"},
                  "y": {"field": "nl", "type": "quantitative", "scale": {"domain": [-2.36, 4.36], "nice": false, "zero": false}, "axis": null}}}
            ]
          }
        },
        {
          "data": {"name": "densB"},
          "spacing": 14,
          "facet": {"column": {"field": "p", "type": "nominal", "header": {"labels": false, "title": "Elevation differences (m)\u00a0\u00a0\u00a0\u00a0\u00a0\u00a0[ATL08 mean terrain - reference DTM]\u00a0\u00a0\u00a0\u00a0\u00a0\u00a0\u00a0\u00a0\u00a0\u200b", "titleOrient": "bottom", "titleFontSize": 23, "titleFontWeight": "normal", "titleColor": "#000000", "titlePadding": -3}}},
          "spec": {
            "width": 196,
            "height": 266,
            "encoding": {
              "x": {"field": "x", "type": "quantitative", "scale": {"domain": [-5.5, 5.5], "nice": false, "zero": false},
                "axis": {"values": [-5, -2.5, 0, 2.5, 5], "title": null,
                  "labelExpr": "indexof([-5,0,5], datum.value) >= 0 ? '' + datum.value : ''",
                  "tickOpacity": {"condition": {"test": "indexof([-5,0,5], datum.value) >= 0", "value": 1}, "value": 0},
                  "gridColor": "#EBEBEB",
                  "gridWidth": {"condition": {"test": "indexof([-5,0,5], datum.value) >= 0", "value": 1.5}, "value": 0.8}}},
              "y": {"field": "y", "type": "quantitative", "stack": null, "scale": {"domain": [-0.068, 1.33], "nice": false, "zero": false},
                "axis": {"values": [0, 0.25, 0.5, 0.75, 1, 1.25], "title": "Density",
                  "labelExpr": "indexof([0,0.5,1], datum.value) >= 0 ? format(datum.value, '.1f') : ''",
                  "tickOpacity": {"condition": {"test": "indexof([0,0.5,1], datum.value) >= 0", "value": 1}, "value": 0},
                  "gridColor": "#EBEBEB",
                  "gridWidth": {"condition": {"test": "indexof([0,0.5,1], datum.value) >= 0", "value": 1.5}, "value": 0.8}}}
            },
            "layer": [
              {"transform": [{"filter": "datum.s == 'f'"}], "mark": {"type": "area", "interpolate": "monotone", "fill": "#D15119", "fillOpacity": 0.5}, "encoding": {}},
              {"transform": [{"filter": "datum.s == 'f'"}], "mark": {"type": "line", "interpolate": "monotone", "strokeWidth": 2, "stroke": "#D0693A"}, "encoding": {}},
              {"transform": [{"filter": "datum.s == 'c'"}], "mark": {"type": "area", "interpolate": "monotone", "fill": "#0F65B5", "fillOpacity": 0.5}, "encoding": {}},
              {"transform": [{"filter": "datum.s == 'c'"}], "mark": {"type": "line", "interpolate": "monotone", "strokeWidth": 2, "stroke": "#2F7EBC"}, "encoding": {}},
              {"transform": [{"filter": "datum.s == 'v'"}], "mark": {"type": "line", "strokeDash": [3, 3], "strokeWidth": 1, "color": "#222222"}, "encoding": {}},
              {"transform": [{"filter": "datum.s == 'b'"}], "mark": {"type": "line", "strokeWidth": 2.5, "color": "#000000"}, "encoding": {}}
            ]
          }
        }
      ]
    }
  ]
}
